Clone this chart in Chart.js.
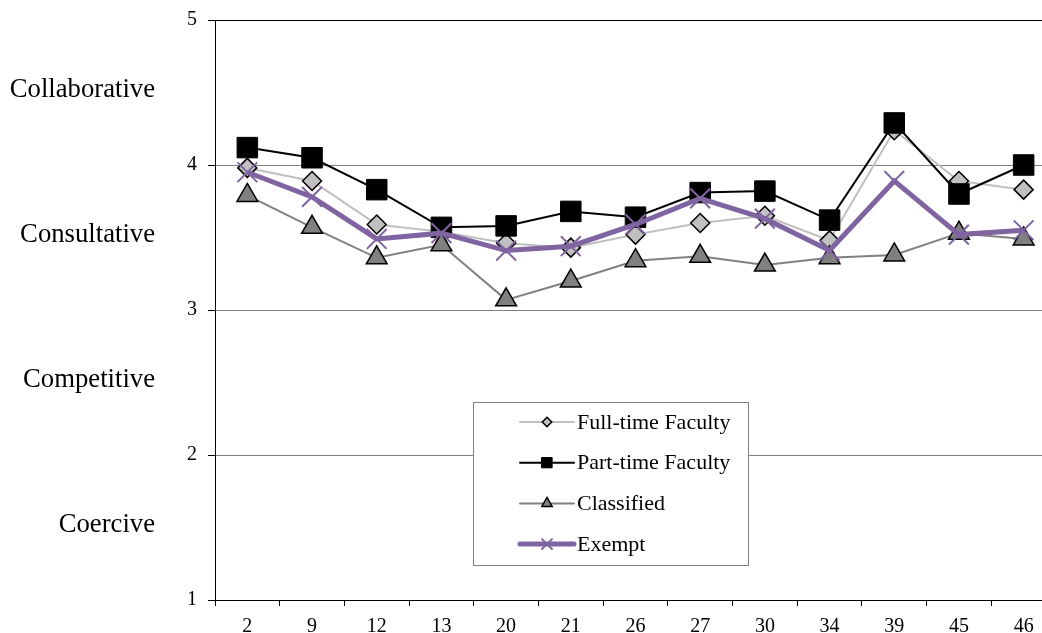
<!DOCTYPE html>
<html>
<head>
<meta charset="utf-8">
<script src="https://cdn.jsdelivr.net/npm/chart.js@4"></script>
<style>
  html, body { margin: 0; padding: 0; background: #fff; overflow: hidden; }
  #wrap { width: 1080px; height: 633px; }
</style>
</head>
<body>
<div id="wrap"><canvas id="chartEstilos" width="1080" height="633"></canvas></div>
<script>
const categorias = ["2", "9", "12", "13", "20", "21", "26", "27", "30", "34", "39", "45", "46"];

const fullTime   = [3.98, 3.89, 3.59, 3.54, 3.46, 3.43, 3.52, 3.60, 3.65, 3.48, 4.24, 3.89, 3.83];
const partTime   = [4.12, 4.05, 3.83, 3.57, 3.58, 3.68, 3.64, 3.81, 3.82, 3.62, 4.29, 3.80, 4.00];
const classified = [3.79, 3.57, 3.36, 3.45, 3.07, 3.20, 3.34, 3.37, 3.31, 3.36, 3.38, 3.53, 3.49];
const exempt     = [3.95, 3.78, 3.49, 3.53, 3.41, 3.44, 3.59, 3.77, 3.63, 3.41, 3.89, 3.52, 3.55];

// faixas de estilo, de 1-2 ate 4-5
const faixas = ["Coercive", "Competitive", "Consultative", "Collaborative"];
const yTicks = [1, 2, 3, 4, 5];

const fonte = "'Liberation Serif', 'Times New Roman', serif";

// textos das faixas ao lado do eixo y
const faixasPlugin = {
  id: "faixas",
  afterDraw(chart) {
    const ctx = chart.ctx;
    const y = chart.scales.y;
    ctx.save();
    ctx.font = "26.7px " + fonte;
    ctx.fillStyle = "#000";
    ctx.textAlign = "right";
    ctx.textBaseline = "middle";
    faixas.forEach((nome, i) => {
      ctx.fillText(nome, 155, y.getPixelForValue(yTicks[i] + 0.5) - 3);
    });
    ctx.restore();
  }
};

// legenda em caixa dentro da area do grafico
const legendaPlugin = {
  id: "legendaBox",
  afterDraw(chart) {
    const ctx = chart.ctx;
    ctx.save();
    ctx.fillStyle = "#fff";
    ctx.fillRect(473, 402, 275, 163);
    ctx.strokeStyle = "#808080";
    ctx.lineWidth = 1;
    ctx.strokeRect(473.5, 402.5, 275, 163);

    chart.data.datasets.forEach((ds, i) => {
      const yy = 422 + i * 40.7;
      ctx.strokeStyle = ds.borderColor;
      ctx.lineWidth = ds.borderWidth;
      ctx.lineCap = "round";
      ctx.beginPath();
      ctx.moveTo(520, yy);
      ctx.lineTo(574, yy);
      ctx.stroke();

      ctx.fillStyle = ds.pointBackgroundColor;
      ctx.strokeStyle = ds.pointBorderColor;
      ctx.lineWidth = ds.pointBorderWidth;
      Chart.helpers.drawPoint(ctx, {
        pointStyle: ds.pointStyle,
        radius: ds.pointRadius * 0.5,
        rotation: 0,
        borderWidth: ds.pointBorderWidth
      }, 547, yy);

      ctx.fillStyle = "#000";
      ctx.font = "22px " + fonte;
      ctx.textAlign = "left";
      ctx.textBaseline = "middle";
      ctx.fillText(ds.label, 577, yy + 1);
    });
    ctx.restore();
  }
};

new Chart(document.getElementById("chartEstilos"), {
  type: "line",
  data: {
    labels: categorias,
    datasets: [
      {
        label: "Full-time Faculty",
        data: fullTime,
        borderColor: "#c0c0c0",
        borderWidth: 2,
        pointStyle: "rectRot",
        pointRadius: 9.5,
        pointBackgroundColor: "#c0c0c0",
        pointBorderColor: "#000",
        pointBorderWidth: 1.5,
        order: 3
      },
      {
        label: "Part-time Faculty",
        data: partTime,
        borderColor: "#000",
        borderWidth: 2,
        pointStyle: "rect",
        pointRadius: 14.5,
        pointBackgroundColor: "#000",
        pointBorderColor: "#000",
        pointBorderWidth: 1,
        order: 2
      },
      {
        label: "Classified",
        data: classified,
        borderColor: "#808080",
        borderWidth: 2,
        pointStyle: "triangle",
        pointRadius: 12,
        pointBackgroundColor: "#808080",
        pointBorderColor: "#000",
        pointBorderWidth: 1.5,
        order: 1
      },
      {
        label: "Exempt",
        data: exempt,
        borderColor: "#8064a2",
        borderWidth: 5,
        pointStyle: "crossRot",
        pointRadius: 14,
        pointBackgroundColor: "#8064a2",
        pointBorderColor: "#8064a2",
        pointBorderWidth: 2,
        order: 0
      }
    ]
  },
  options: {
    responsive: false,
    animation: false,
    clip: false,
    layout: { padding: { top: 20, right: 24, left: 0, bottom: 0 } },
    plugins: {
      legend: { display: false },
      tooltip: { enabled: false }
    },
    elements: { line: { tension: 0 } },
    scales: {
      x: {
        offset: true,
        afterFit(scale) { scale.height = 33; },
        grid: {
          offset: true,
          drawOnChartArea: false,
          drawTicks: true,
          tickLength: 6,
          color: "#000"
        },
        border: { color: "#000", width: 1 },
        ticks: {
          color: "#000",
          font: { family: fonte, size: 20 },
          padding: 9,
          maxRotation: 0
        }
      },
      y: {
        min: 1,
        max: 5,
        afterFit(scale) {
          scale.width = 215;
          scale.paddingTop = 0;
          scale.paddingBottom = 0;
        },
        afterBuildTicks(scale) {
          scale.ticks = yTicks.map((v) => ({ value: v }));
        },
        grid: {
          color: (c) => (c.tick && c.tick.value === 5 ? "#000" : "#808080"),
          tickColor: "#000",
          tickLength: 7,
          lineWidth: 1
        },
        border: { color: "#000", width: 1 },
        ticks: {
          color: "#000",
          font: { family: fonte, size: 20 },
          padding: 11
        }
      }
    }
  },
  plugins: [faixasPlugin, legendaPlugin]
});
</script>
</body>
</html>
